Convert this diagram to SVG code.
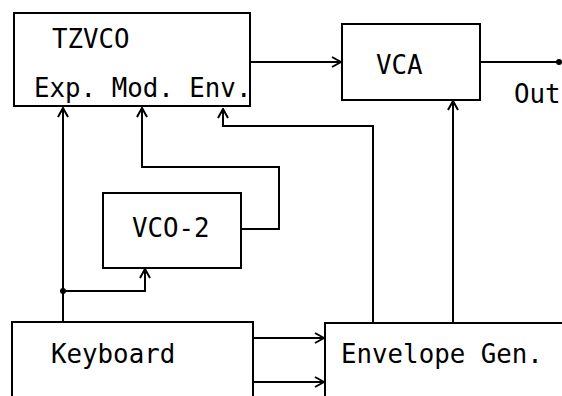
<svg xmlns="http://www.w3.org/2000/svg" width="562" height="396" viewBox="0 0 562 396">
<style>
.box{fill:#fff;stroke:#000;stroke-width:2}
.ln{fill:none;stroke:#000;stroke-width:2}
.t{font-family:"DejaVu Sans Mono","Liberation Mono",monospace;font-size:25.8px;fill:#000}
</style>
<defs>
<marker id="ah" viewBox="0 0 12 12" refX="11" refY="6" markerWidth="12" markerHeight="12" markerUnits="userSpaceOnUse" orient="auto">
<path d="M2,1 L11,6 L2,11" fill="none" stroke="#000" stroke-width="2"/>
</marker>
</defs>
<rect width="562" height="396" fill="#fff"/>
<g id="connectors">
<path class="ln" d="M250,62 H341" marker-end="url(#ah)"/>
<path class="ln" d="M480,62 H558"/>
<circle cx="559" cy="62" r="3" fill="#000"/>
<path class="ln" d="M63,322 V108" marker-end="url(#ah)"/>
<path class="ln" d="M63,291 H145 V269" marker-end="url(#ah)"/>
<circle cx="63" cy="291" r="3" fill="#000"/>
<path class="ln" d="M241,229 H279 V167 H142 V108" marker-end="url(#ah)"/>
<path class="ln" d="M373,323 V126 H223 V109" marker-end="url(#ah)"/>
<path class="ln" d="M453,323 V101" marker-end="url(#ah)"/>
<path class="ln" d="M253,338 H324" marker-end="url(#ah)"/>
<path class="ln" d="M253,382 H324" marker-end="url(#ah)"/>
</g>
<g id="tzvco">
<rect class="box" x="14" y="13" width="236" height="93"/>
<text class="t" x="52" y="48">TZVCO</text>
<text class="t" x="34" y="97">Exp. Mod. Env.</text>
</g>
<g id="vca">
<rect class="box" x="342" y="24" width="138" height="76"/>
<text class="t" x="376" y="74">VCA</text>
</g>
<g id="out">
<text class="t" x="514" y="103">Out</text>
</g>
<g id="vco2">
<rect class="box" x="103" y="193" width="138" height="75"/>
<text class="t" x="132" y="237">VCO-2</text>
</g>
<g id="keyboard">
<rect class="box" x="12" y="322" width="241" height="80"/>
<text class="t" x="51" y="363">Keyboard</text>
</g>
<g id="envgen">
<rect class="box" x="325" y="323" width="250" height="80"/>
<text class="t" x="341" y="363">Envelope Gen.</text>
</g>
</svg>
